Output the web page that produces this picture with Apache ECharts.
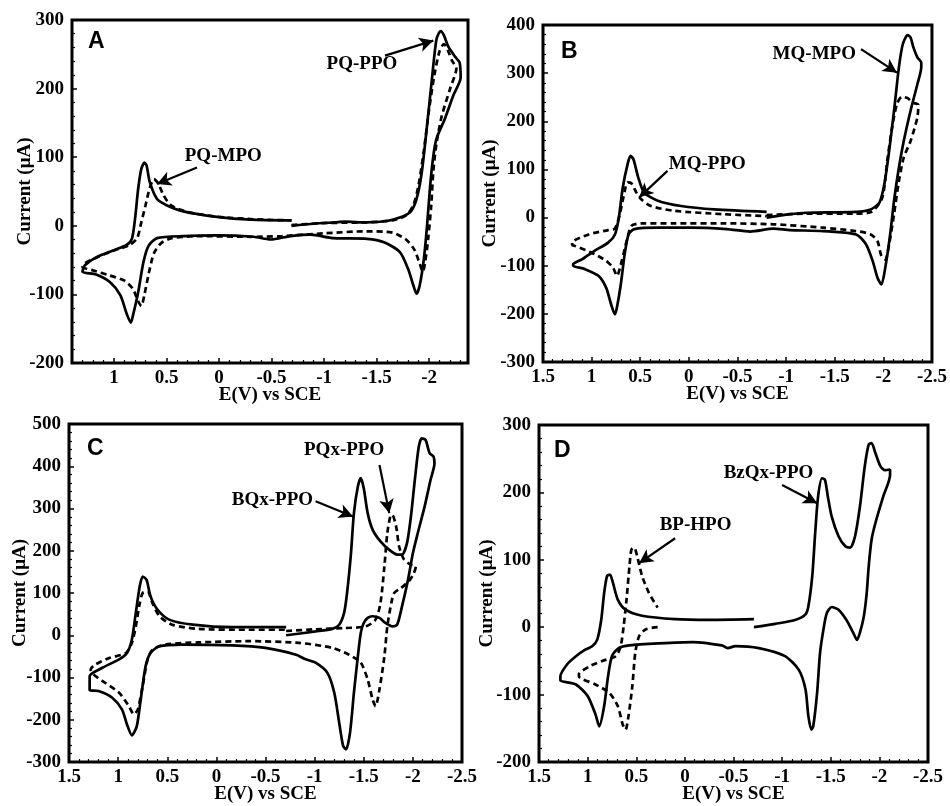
<!DOCTYPE html>
<html><head><meta charset="utf-8">
<script src="https://cdn.jsdelivr.net/npm/echarts@6/dist/echarts.min.js"></script>
<style>html,body{margin:0;padding:0;background:#fff}#c{width:950px;height:806px}</style>
</head><body><div id="c"></div>
<script>
// ---- Data: [E (V vs SCE), Current (uA)] in scan order ----
const aSolid = [[-0.69,0],[-0.9,3],[-1.1,5],[-1.2,6],[-1.4,5],[-1.6,7],[-1.72,12],[-1.82,20],[-1.88,39],[-1.93,78],[-1.98,146],[-2.03,219],[-2.07,272],[-2.11,284],[-2.14,278],[-2.18,262],[-2.25,246],[-2.29,238],[-2.30,216],[-2.23,190],[-2.15,156],[-2.07,127],[-2.04,102],[-2.01,59],[-1.98,0],[-1.95,-48],[-1.91,-87],[-1.88,-99],[-1.85,-87],[-1.80,-63],[-1.72,-38],[-1.57,-24],[-1.41,-19],[-1.09,-18],[-0.87,-13],[-0.68,-15],[-0.49,-20],[-0.33,-16],[0.02,-14],[0.34,-15],[0.59,-18],[0.67,-29],[0.72,-53],[0.77,-97],[0.82,-131],[0.84,-141],[0.88,-128],[0.94,-101],[1.04,-82],[1.17,-71],[1.30,-67],[1.28,-58],[1.17,-46],[1.01,-36],[0.88,-28],[0.83,-19],[0.80,10],[0.77,54],[0.74,83],[0.71,92],[0.69,88],[0.66,64],[0.59,39],[0.50,30],[0.34,21],[0.02,13],[-0.30,9],[-0.69,8]];
const aDashed = [[-0.69,1],[-1.0,4],[-1.4,5],[-1.65,8],[-1.78,15],[-1.85,30],[-1.9,60],[-1.95,110],[-2.0,170],[-2.05,220],[-2.1,255],[-2.14,265],[-2.18,255],[-2.22,240],[-2.26,230],[-2.2,200],[-2.12,160],[-2.07,120],[-2.04,80],[-2.02,30],[-1.99,-20],[-1.96,-55],[-1.94,-67],[-1.91,-55],[-1.86,-35],[-1.78,-20],[-1.65,-10],[-1.4,-8],[-1.0,-11],[-0.6,-15],[-0.3,-16],[0.2,-15],[0.45,-18],[0.55,-25],[0.62,-40],[0.67,-70],[0.71,-100],[0.74,-117],[0.77,-110],[0.82,-92],[0.9,-80],[1.05,-72],[1.2,-65],[1.3,-60],[1.28,-55],[1.15,-45],[1.0,-36],[0.85,-28],[0.78,-18],[0.74,5],[0.7,30],[0.66,55],[0.62,68],[0.58,62],[0.53,45],[0.46,30],[0.3,20],[0.0,13],[-0.4,9],[-0.69,8]];
const bSolid = [[-0.80,0],[-1.04,7],[-1.21,10],[-1.72,12],[-1.87,17],[-1.96,31],[-2.01,69],[-2.06,139],[-2.11,222],[-2.16,312],[-2.20,360],[-2.25,379],[-2.28,374],[-2.31,353],[-2.35,333],[-2.39,322],[-2.39,312],[-2.35,277],[-2.28,222],[-2.21,159],[-2.16,104],[-2.11,35],[-2.07,-35],[-2.02,-104],[-1.98,-139],[-1.94,-125],[-1.89,-90],[-1.82,-55],[-1.72,-35],[-1.38,-28],[-1.04,-26],[-0.87,-23],[-0.63,-29],[-0.39,-24],[-0.02,-21],[0.32,-21],[0.56,-24],[0.62,-35],[0.66,-76],[0.70,-139],[0.74,-187],[0.76,-201],[0.80,-180],[0.85,-146],[0.93,-121],[1.07,-107],[1.19,-100],[1.19,-97],[1.10,-87],[0.97,-69],[0.83,-52],[0.76,-35],[0.72,0],[0.68,62],[0.63,111],[0.60,128],[0.57,121],[0.52,83],[0.46,52],[0.32,35],[0.08,24],[-0.26,17],[-0.80,12]];
const bDashed = [[-0.8,5],[-1.2,8],[-1.7,8],[-1.88,12],[-1.99,42],[-2.04,118],[-2.09,187],[-2.14,236],[-2.19,251],[-2.25,248],[-2.30,239],[-2.36,234],[-2.35,208],[-2.28,159],[-2.21,125],[-2.16,76],[-2.11,7],[-2.06,-55],[-2.02,-87],[-1.98,-80],[-1.94,-49],[-1.87,-35],[-1.72,-28],[-1.38,-21],[-0.87,-14],[-0.36,-12],[0.15,-12],[0.49,-12],[0.59,-17],[0.64,-49],[0.69,-90],[0.74,-121],[0.78,-104],[0.85,-90],[1.0,-73],[1.17,-59],[1.20,-57],[1.20,-52],[1.03,-35],[0.83,-26],[0.76,-23],[0.71,7],[0.66,55],[0.63,73],[0.59,71],[0.54,52],[0.49,38],[0.39,24],[0.15,14],[-0.36,7],[-0.80,3]];
const cSolid = [[-0.71,0],[-1.01,9],[-1.18,15],[-1.25,25],[-1.30,53],[-1.33,100],[-1.37,194],[-1.40,289],[-1.44,352],[-1.47,372],[-1.50,348],[-1.54,289],[-1.59,250],[-1.67,222],[-1.76,202],[-1.84,191],[-1.89,191],[-1.94,218],[-1.98,281],[-2.02,368],[-2.06,446],[-2.09,466],[-2.13,462],[-2.17,431],[-2.21,423],[-2.22,407],[-2.18,368],[-2.12,305],[-2.05,242],[-2.00,194],[-1.95,131],[-1.89,69],[-1.84,25],[-1.79,21],[-1.72,29],[-1.66,41],[-1.59,45],[-1.54,41],[-1.50,29],[-1.47,6],[-1.44,-50],[-1.40,-136],[-1.36,-231],[-1.32,-270],[-1.29,-262],[-1.25,-207],[-1.20,-136],[-1.13,-89],[-1.01,-65],[-0.91,-57],[-0.81,-46],[-0.50,-30],[-0.16,-24],[0.35,-22],[0.58,-26],[0.67,-42],[0.72,-73],[0.77,-152],[0.81,-215],[0.86,-237],[0.91,-211],[0.96,-176],[1.06,-148],[1.20,-132],[1.29,-130],[1.29,-97],[1.16,-77],[0.99,-57],[0.91,-42],[0.86,-10],[0.82,53],[0.78,116],[0.75,139],[0.71,131],[0.67,92],[0.60,61],[0.48,37],[0.24,25],[-0.16,19],[-0.71,19]];
const cDashed = [[-0.71,10],[-1.0,14],[-1.3,17],[-1.52,21],[-1.62,37],[-1.67,76],[-1.71,163],[-1.74,242],[-1.77,281],[-1.79,285],[-1.83,257],[-1.86,210],[-1.91,179],[-1.98,167],[-2.03,163],[-2.01,147],[-1.96,128],[-1.88,112],[-1.81,100],[-1.78,76],[-1.74,21],[-1.71,-50],[-1.66,-128],[-1.62,-168],[-1.59,-152],[-1.54,-105],[-1.47,-65],[-1.35,-46],[-1.18,-30],[-0.84,-18],[-0.33,-14],[0.18,-17],[0.52,-22],[0.65,-34],[0.70,-57],[0.75,-120],[0.80,-176],[0.84,-187],[0.89,-168],[0.99,-136],[1.13,-113],[1.25,-93],[1.28,-81],[1.23,-69],[1.09,-54],[0.92,-42],[0.86,-18],[0.82,21],[0.78,76],[0.75,100],[0.70,104],[0.65,76],[0.58,45],[0.45,25],[0.18,15],[-0.33,13],[-0.71,13]];
const dSolid = [[-0.71,0],[-0.93,5],[-1.14,11],[-1.24,19],[-1.27,31],[-1.31,76],[-1.34,140],[-1.37,194],[-1.41,221],[-1.44,219],[-1.47,194],[-1.51,164],[-1.58,135],[-1.65,120],[-1.70,118],[-1.75,135],[-1.80,179],[-1.85,239],[-1.89,271],[-1.92,273],[-1.96,258],[-2.01,239],[-2.06,233],[-2.11,234],[-2.11,226],[-2.04,194],[-1.96,155],[-1.92,130],[-1.89,90],[-1.87,51],[-1.84,16],[-1.80,-8],[-1.77,-19],[-1.73,-8],[-1.66,11],[-1.58,26],[-1.51,30],[-1.46,21],[-1.43,1],[-1.39,-38],[-1.36,-97],[-1.32,-147],[-1.30,-152],[-1.27,-132],[-1.24,-92],[-1.17,-63],[-1.03,-43],[-0.76,-31],[-0.52,-28],[-0.44,-31],[-0.38,-27],[-0.08,-22],[0.27,-24],[0.57,-27],[0.68,-31],[0.75,-43],[0.79,-73],[0.83,-117],[0.88,-147],[0.92,-129],[1.00,-102],[1.12,-85],[1.28,-79],[1.28,-73],[1.21,-55],[1.12,-43],[1.02,-33],[0.95,-28],[0.90,-18],[0.86,11],[0.83,51],[0.80,76],[0.77,78],[0.74,66],[0.69,41],[0.61,26],[0.44,17],[0.10,12],[-0.25,11],[-0.71,12]];
const dDashed = [[0.28,0],[0.40,-3],[0.47,-13],[0.51,-38],[0.54,-87],[0.58,-132],[0.61,-152],[0.64,-144],[0.69,-117],[0.78,-97],[0.92,-85],[1.09,-73],[1.09,-70],[0.98,-58],[0.85,-50],[0.71,-43],[0.66,-28],[0.63,1],[0.60,41],[0.57,90],[0.55,115],[0.52,118],[0.49,105],[0.44,76],[0.37,51],[0.28,29]];

// Annotations: label position [E, I] and arrow [from, to]
const aNotes = [{t:'PQ-MPO', p:[-0.04,102], a:[[0.21,85],[0.59,61]]},{t:'PQ-PPO', p:[-1.36,236], a:[[-1.58,248],[-2.04,270]]}];
const bNotes = [{t:'MQ-MPO', p:[-1.29,340], a:[[-1.77,350],[-2.14,301]]},{t:'MQ-PPO', p:[-0.19,111], a:[[0.22,97],[0.51,42]]}];
const cNotes = [{t:'PQx-PPO', p:[-1.30,439], a:[[-1.66,403],[-1.76,289]]},{t:'BQx-PPO', p:[-0.57,320], a:[[-1.01,317],[-1.39,281]]}];
const dNotes = [{t:'BzQx-PPO', p:[-0.86,229], a:[[-1.0,211],[-1.36,184]]},{t:'BP-HPO', p:[-0.11,152], a:[[0.10,132],[0.47,95]]}];

const panelLetters = ['A','B','C','D'];
const xRanges = [[-2.37,1.4],[-2.5,1.5],[-2.5,1.5],[-2.5,1.5]];
const yRanges = [[-200,300],[-300,400],[-300,500],[-200,300]];

const serif = 'Liberation Serif';
const grids = [
  {left:72, top:20, width:396, height:343},
  {left:543, top:25, width:392, height:337},
  {left:69, top:424, width:393, height:338},
  {left:539, top:425, width:389, height:337}
];
const yNameGaps = [37, 43, 39, 42];
const letterPos = [[88,30],[561,40],[87,437],[554,439]];

const txt = {fontFamily:serif, fontWeight:'bold', fontSize:19, color:'#000'};
function xAxis(i){
  const r = xRanges[i];
  const ax = {type:'value', gridIndex:i, inverse:true, min:r[0], max:r[1],
    name:'E(V) vs SCE', nameLocation:'middle', nameGap:23, nameTextStyle:txt, nameMoveOverlap:false,
    axisLine:{show:false, onZero:false},
    axisTick:{show:true, inside:true, length:5, lineStyle:{color:'#000', width:1.5}},
    minorTick:{show:true, splitNumber:5, length:3, lineStyle:{color:'#000', width:1.2}},
    splitLine:{show:false},
    axisLabel:Object.assign({margin:6, formatter:function(v){
      if (Math.abs(v*2 - Math.round(v*2)) > 1e-6) return '';
      return String(Math.round(v*10)/10);
    }}, txt)};
  if (i === 0) { ax.splitNumber = 7; ax.axisLabel.showMinLabel = false; ax.axisLabel.showMaxLabel = false; }
  else { ax.interval = 0.5; }
  return ax;
}
function yAxis(i){
  const r = yRanges[i];
  return {type:'value', gridIndex:i, min:r[0], max:r[1], interval:100,
    name:'Current (μA)', nameLocation:'middle', nameGap:yNameGaps[i], nameTextStyle:txt, nameMoveOverlap:false,
    axisLine:{show:false, onZero:false},
    axisTick:{show:true, inside:true, length:5, lineStyle:{color:'#000', width:1.5}},
    minorTick:{show:true, splitNumber:5, length:3, lineStyle:{color:'#000', width:1.2}},
    splitLine:{show:false},
    axisLabel:Object.assign({margin:8}, txt)};
}
function curve(data, i, dashed){
  return {type:'line', xAxisIndex:i, yAxisIndex:i, data:data, showSymbol:false, symbol:'none',
    smooth:0.25, lineStyle:{color:'#000', width:2.7, type: dashed ? [6,4] : 'solid'}, z:3, animation:false};
}
function notes(list, i){
  return {type:'scatter', xAxisIndex:i, yAxisIndex:i, symbolSize:0, animation:false,
    itemStyle:{color:'#000'},
    data:list.map(n => ({value:n.p, name:n.t})),
    label:Object.assign({show:true, position:'inside', formatter:'{b}', textBorderWidth:0, opacity:1}, txt),
    markLine:{silent:true, animation:false, symbol:['none','arrow'], symbolSize:[11,14],
      lineStyle:{color:'#000', width:2.2, type:'solid'}, label:{show:false},
      data:list.map(n => [{coord:n.a[0]},{coord:n.a[1]}])}};
}
const chart = echarts.init(document.getElementById('c'));
chart.setOption({
  backgroundColor:'#fff',
  animation:false,
  title: panelLetters.map((l,i) => ({text:l, left:letterPos[i][0], top:letterPos[i][1], padding:0,
    textStyle:{fontFamily:'Liberation Sans', fontWeight:'bold', fontSize:23, color:'#000'}})),
  grid: grids.map(g => Object.assign({show:true, borderColor:'#000', borderWidth:3, backgroundColor:'transparent'}, g)),
  xAxis: [0,1,2,3].map(xAxis),
  yAxis: [0,1,2,3].map(yAxis),
  series: [
    curve(aSolid,0,false), curve(aDashed,0,true), notes(aNotes,0),
    curve(bSolid,1,false), curve(bDashed,1,true), notes(bNotes,1),
    curve(cSolid,2,false), curve(cDashed,2,true), notes(cNotes,2),
    curve(dSolid,3,false), curve(dDashed,3,true), notes(dNotes,3)
  ]
});
</script></body></html>
